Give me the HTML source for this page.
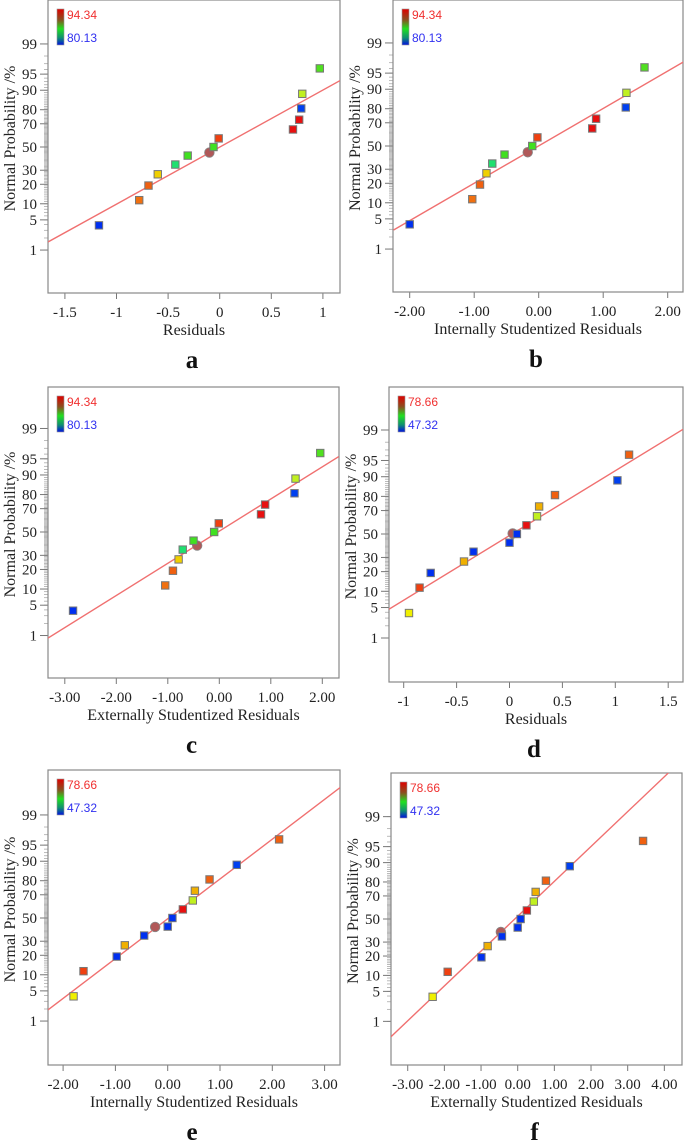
<!DOCTYPE html>
<html><head><meta charset="utf-8"><style>
html,body{margin:0;padding:0;background:#fff;}
svg{display:block;}
</style></head><body>
<svg id="fig" width="685" height="1143" viewBox="0 0 685 1143" xmlns="http://www.w3.org/2000/svg">
<defs>
<linearGradient id="cb" x1="0" y1="0" x2="0" y2="1">
<stop offset="0" stop-color="#e00000"/><stop offset="0.3" stop-color="#8a5020"/><stop offset="0.55" stop-color="#20e020"/><stop offset="0.8" stop-color="#109070"/><stop offset="1" stop-color="#0010e0"/>
</linearGradient>
</defs>
</svg>
<script>
// shared plotting positions (13 runs)
const probs = [3.85,11.5,19.2,26.9,34.6,42.3,50,57.7,65.4,73.1,80.8,88.5,96.2];
const yTicks = [1,5,10,20,30,50,70,80,90,95,99];
// panel a
const xA = [-1.17,-0.78,-0.69,-0.60,-0.43,-0.31,-0.06,-0.01,0.71,0.77,0.79,0.80,0.97];
const cA = ['#0030f0','#f07010','#f06010','#f0d000','#20e070','#40e020','#40e020','#f04010','#e81010','#e81010','#0040f0','#c0f020','#50e020'];
const ticksA = [-1.5,-1,-0.5,0,0.5,1];
const tickLabA = ['-1.5','-1','-0.5','0','0.5','1'];
const circA = [-0.10,45];
const lineXA = [-1.664,1.166];
const linePA = [1.6,93.3];
// panel b
const xB = [-2.0,-1.03,-0.91,-0.81,-0.72,-0.53,-0.10,-0.02,0.83,0.89,1.35,1.36,1.64];
const ticksB = [-2,-1,0,1,2];
const tickLabB = ['-2.00','-1.00','0.00','1.00','2.00'];
const circB = [-0.17,44.4];
const lineXB = [-2.25,2.243];
const linePB = [2.9,97.1];
// panel c
const xC = [-2.84,-1.05,-0.90,-0.79,-0.71,-0.50,-0.10,-0.01,0.81,0.89,1.46,1.48,1.96];
const ticksC = [-3,-2,-1,0,1,2];
const tickLabC = ['-3.00','-2.00','-1.00','0.00','1.00','2.00'];
const circC = [-0.43,38];
const lineXC = [-3.33,2.32];
const linePC = [0.85,95.5];
// panel d
const xD = [-0.95,-0.85,-0.745,-0.43,-0.34,0.0,0.07,0.16,0.26,0.28,0.43,1.02,1.13];
const cD = ['#f0f000','#f04010','#0030f0','#f0b000','#0030f0','#0030f0','#0030f0','#e81010','#c0f020','#f0b000','#f06010','#0040f0','#f06010'];
const ticksD = [-1,-0.5,0,0.5,1,1.5];
const tickLabD = ['-1','-0.5','0','0.5','1','1.5'];
const circD = [0.03,50.5];
const lineXD = [-1.14,1.64];
const linePD = [4.6,99.04];
// panel e
const xE = [-1.80,-1.61,-0.975,-0.82,-0.45,0.0,0.09,0.29,0.48,0.52,0.80,1.32,2.13];
const ticksE = [-2,-1,0,1,2,3];
const tickLabE = ['-2.00','-1.00','0.00','1.00','2.00','3.00'];
const circE = [-0.24,42];
const lineXE = [-2.29,3.30];
const linePE = [1.9,99.84];
// panel f
const xF = [-2.32,-1.91,-0.99,-0.82,-0.43,0.0,0.08,0.25,0.44,0.49,0.77,1.42,3.42];
const ticksF = [-3,-2,-1,0,1,2,3,4];
const tickLabF = ['-3.00','-2.00','-1.00','0.00','1.00','2.00','3.00','4.00'];
const circF = [-0.46,38.4];
const lineXF = [-3.46,4.11];
const linePF = [0.37,99.955];

const NS='http://www.w3.org/2000/svg';
const svg=document.getElementById('fig');
const SERIF="'Liberation Serif', 'Times New Roman', serif";
const SANS="'Liberation Sans', Arial, sans-serif";
function mk(tag,attrs,parent){const e=document.createElementNS(NS,tag);for(const k in attrs)e.setAttribute(k,attrs[k]);(parent||svg).appendChild(e);return e;}
function probit(p){p=p/100;const a=[-39.69683028665376,220.9460984245205,-275.9285104469687,138.357751867269,-30.66479806614716,2.506628277459239];const b=[-54.47609879822406,161.5858368580409,-155.6989798598866,66.80131188771972,-13.28068155288572];const c=[-0.007784894002430293,-0.3223964580411365,-2.400758277161838,-2.549732539343734,4.374664141464968,2.938163982698783];const d=[0.007784695709041462,0.3224671290700398,2.445134137142996,3.754408661907416];const pl=0.02425;let q,r;if(p<pl){q=Math.sqrt(-2*Math.log(p));return(((((c[0]*q+c[1])*q+c[2])*q+c[3])*q+c[4])*q+c[5])/((((d[0]*q+d[1])*q+d[2])*q+d[3])*q+1);}if(p>1-pl){q=Math.sqrt(-2*Math.log(1-p));return-(((((c[0]*q+c[1])*q+c[2])*q+c[3])*q+c[4])*q+c[5])/((((d[0]*q+d[1])*q+d[2])*q+d[3])*q+1);}q=p-0.5;r=q*q;return(((((a[0]*r+a[1])*r+a[2])*r+a[3])*r+a[4])*r+a[5])*q/(((((b[0]*r+b[1])*r+b[2])*r+b[3])*r+b[4])*r+1);}

function panel(o){
  const g=mk('g',{});
  
  
  const X=v=>o.x0+v*o.ux, Y=p=>o.y50-probit(p)*o.uz;
  const clipId='clip'+o.id;
  const cp=mk('clipPath',{id:clipId},g);mk('rect',{x:o.L,y:o.T,width:o.R-o.L,height:o.B-o.T},cp);
  for(let p=1;p<=99;p++){const t=mk('line',{x1:o.L-4,x2:o.L,y1:Y(p),y2:Y(p),stroke:'#aaa','stroke-width':0.8},g);}
  yTicks.forEach(p=>{
    const t=mk('line',{x1:o.L-8,x2:o.L,y1:Y(p),y2:Y(p),stroke:'#777','stroke-width':1},g);
    
    const tx=mk('text',{x:o.L-11,y:Y(p)+5,'text-anchor':'end','font-family':SERIF,'font-size':15,fill:'#222'},g);
    tx.textContent=p;
    
  });
  o.ticks.forEach((v,i)=>{
    const t=mk('line',{x1:X(v),x2:X(v),y1:o.B,y2:o.B+6,stroke:'#777','stroke-width':1},g);
    
    const tx=mk('text',{x:X(v),y:o.B+24,'text-anchor':'middle','font-family':SERIF,'font-size':15,fill:'#222'},g);
    tx.textContent=o.tickLab[i];
    
  });
  const box=mk('rect',{x:o.L,y:o.T,width:o.R-o.L,height:o.B-o.T,fill:'none',stroke:'#888','stroke-width':1.2},g);
  
  const ln=mk('line',{x1:X(o.lx[0]),y1:Y(o.lp[0]),x2:X(o.lx[1]),y2:Y(o.lp[1]),stroke:'#f07070','stroke-width':1.4,'clip-path':'url(#'+clipId+')'},g);
  
  const ci=mk('circle',{cx:X(o.circ[0]),cy:Y(o.circ[1]),r:4.8,fill:'#b05858',stroke:'#888','stroke-width':0.8},g);
  
  o.xs.forEach((v,i)=>{
    const r=mk('rect',{x:X(v)-3.7,y:Y(probs[i])-3.7,width:7.4,height:7.4,fill:o.cols[i],stroke:'#777','stroke-width':1},g);
    
  });
  const cb=mk('rect',{x:o.L+9,y:o.T+9,width:7,height:36,fill:'url(#cb)',stroke:'#999','stroke-width':0.6},g);
  
  const hi=mk('text',{x:o.L+19,y:o.T+19,'font-family':SANS,'font-size':12,fill:'#f03030'},g);
  hi.textContent=o.hi;
  const lo=mk('text',{x:o.L+19,y:o.T+42,'font-family':SANS,'font-size':12,fill:'#3030f0'},g);
  lo.textContent=o.lo;
  const yt=mk('text',{x:0,y:0,transform:'translate('+(o.L-33)+','+((o.T+o.B)/2-8)+') rotate(-90)','text-anchor':'middle','font-family':SERIF,'font-size':16,fill:'#222'},g);
  yt.textContent='Normal Probability /%';
  const xt=mk('text',{x:(o.L+o.R)/2,y:o.B+42,'text-anchor':'middle','font-family':SERIF,'font-size':16,fill:'#222'},g);
  xt.textContent=o.xtitle;
  const pl=mk('text',{x:(o.L+o.R)/2-2,y:o.B+75,'text-anchor':'middle','font-family':SERIF,'font-size':25,'font-weight':'bold',fill:'#111'},g);
  pl.textContent=o.id;
}
const cB=cA, cC=cA, cE=cD, cF=cD;
panel({id:'a',L:48,R:340,T:0,B:293,x0:219.7,ux:103.2,y50:147,uz:44.3,xs:xA,cols:cA,ticks:ticksA,tickLab:tickLabA,circ:circA,lx:lineXA,lp:linePA,hi:'94.34',lo:'80.13',xtitle:'Residuals'});
panel({id:'b',L:393,R:683,T:0,B:292,x0:538.7,ux:64.5,y50:146,uz:44.3,xs:xB,cols:cB,ticks:ticksB,tickLab:tickLabB,circ:circB,lx:lineXB,lp:linePB,hi:'94.34',lo:'80.13',xtitle:'Internally Studentized Residuals'});
panel({id:'c',L:48,R:339,T:387,B:678,x0:219.3,ux:51.5,y50:532,uz:44.5,xs:xC,cols:cC,ticks:ticksC,tickLab:tickLabC,circ:circC,lx:lineXC,lp:linePC,hi:'94.34',lo:'80.13',xtitle:'Externally Studentized Residuals'});
panel({id:'d',L:389,R:683,T:387,B:682,x0:509.5,ux:105.8,y50:534,uz:44.7,xs:xD,cols:cD,ticks:ticksD,tickLab:tickLabD,circ:circD,lx:lineXD,lp:linePD,hi:'78.66',lo:'47.32',xtitle:'Residuals'});
panel({id:'e',L:48,R:340,T:770,B:1065,x0:167.7,ux:52.3,y50:918,uz:44.3,xs:xE,cols:cE,ticks:ticksE,tickLab:tickLabE,circ:circE,lx:lineXE,lp:linePE,hi:'78.66',lo:'47.32',xtitle:'Internally Studentized Residuals'});
panel({id:'f',L:391,R:682,T:773,B:1065,x0:517.7,ux:36.66,y50:919,uz:44,xs:xF,cols:cF,ticks:ticksF,tickLab:tickLabF,circ:circF,lx:lineXF,lp:linePF,hi:'78.66',lo:'47.32',xtitle:'Externally Studentized Residuals'});
</script>
</body></html>
